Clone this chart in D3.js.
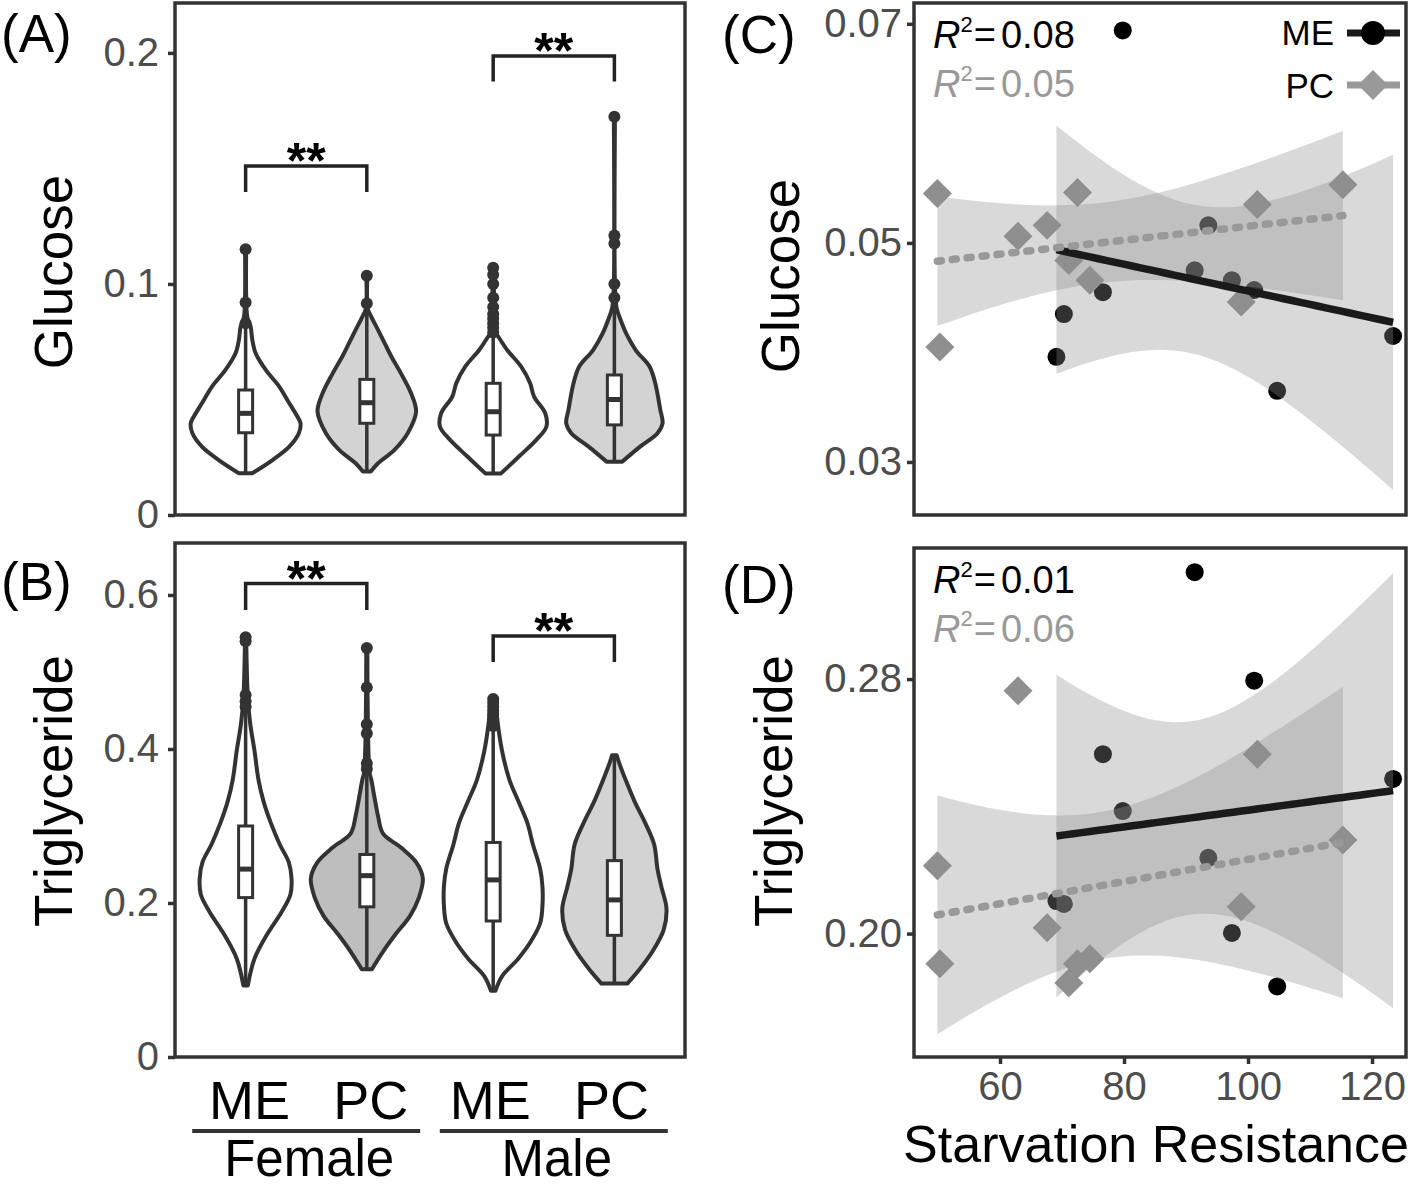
<!DOCTYPE html>
<html>
<head>
<meta charset="utf-8">
<script src="https://cdn.jsdelivr.net/npm/d3@7"></script>
<style>
body { margin:0; background:#fff; }
text { font-family: "Liberation Sans", Arial, Helvetica, sans-serif; }
</style>
</head>
<body>
<div id="chart"></div>
<script>
// ---- data ----
const sexes = ["Female", "Male"];
const pops = ["ME", "PC"];
// order of violins: ME-Female, PC-Female, ME-Male, PC-Male

// violin outlines: [value, relative density]
const gluViolinMEF = [[0.0181,0.12],[0.0238,0.48],[0.0296,0.78],[0.0354,0.95],[0.0397,0.98],[0.044,0.89],[0.0484,0.78],[0.0556,0.6],[0.0628,0.36],[0.07,0.18],[0.0758,0.12],[0.0815,0.09],[0.0858,0.03],[0.095,0.01],[0.115,0.01]];
const gluViolinPCF = [[0.0188,0.07],[0.0224,0.2],[0.0281,0.49],[0.0354,0.73],[0.0447,0.88],[0.0527,0.79],[0.0613,0.61],[0.0685,0.44],[0.0743,0.32],[0.0801,0.2],[0.0858,0.08],[0.089,0.02],[0.1035,0.01]];
const gluViolinMEM = [[0.018,0.14],[0.0253,0.46],[0.0325,0.77],[0.0382,0.95],[0.044,0.93],[0.0512,0.73],[0.057,0.66],[0.0642,0.5],[0.0714,0.25],[0.0772,0.09],[0.0786,0.05],[0.09,0.02],[0.107,0.01]];
const gluViolinPCM = [[0.0231,0.14],[0.0296,0.46],[0.0354,0.77],[0.0397,0.86],[0.0455,0.82],[0.057,0.73],[0.0642,0.63],[0.0714,0.38],[0.0786,0.21],[0.0858,0.09],[0.0895,0.04],[0.1,0.01],[0.1724,0.01]];

const triViolinMEF = [[0.093,0.04],[0.128,0.16],[0.16,0.39],[0.188,0.64],[0.211,0.8],[0.232,0.82],[0.253,0.77],[0.276,0.61],[0.304,0.45],[0.332,0.32],[0.36,0.23],[0.397,0.16],[0.434,0.08],[0.466,0.04],[0.545,0.01]];
const triViolinPCF = [[0.114,0.09],[0.137,0.29],[0.16,0.52],[0.183,0.77],[0.207,0.93],[0.232,1.0],[0.253,0.88],[0.272,0.61],[0.29,0.29],[0.313,0.2],[0.336,0.14],[0.36,0.08],[0.369,0.05],[0.531,0.01]];
const triViolinMEM = [[0.086,0.04],[0.105,0.16],[0.128,0.45],[0.151,0.68],[0.174,0.84],[0.197,0.88],[0.221,0.88],[0.244,0.84],[0.276,0.71],[0.304,0.61],[0.332,0.45],[0.36,0.29],[0.397,0.16],[0.434,0.08],[0.464,0.04]];
const triViolinPCM = [[0.0953,0.23],[0.114,0.45],[0.137,0.68],[0.165,0.88],[0.193,0.93],[0.221,0.84],[0.244,0.77],[0.276,0.71],[0.304,0.55],[0.332,0.36],[0.36,0.2],[0.383,0.08],[0.392,0.04]];

// boxes: [q1, median, q3]
const gluBoxes = [[0.0356,0.044,0.0541],[0.0397,0.0486,0.0587],[0.0346,0.0447,0.057],[0.039,0.050,0.0606]];
const triBoxes = [[0.207,0.244,0.300],[0.195,0.2355,0.263],[0.1766,0.230,0.2786],[0.158,0.204,0.255]];

const gluOutliers = [[0.115,0.092,0.083],[0.1035,0.0915],[0.107,0.104,0.1,0.094,0.09,0.087,0.085,0.083,0.081,0.079],[0.1724,0.121,0.1175,0.1,0.094]];
const triOutliers = [[0.545,0.54,0.47,0.462,0.455],[0.531,0.48,0.432,0.42,0.381,0.374],[0.465,0.46,0.455,0.45,0.445,0.44,0.435,0.43],[]];

// significance brackets: [sex, top, stem end]
const gluSig = [["Female",0.1511,0.1398],["Male",0.1987,0.1876]];
const triSig = [["Female",0.6148,0.5805],["Male",0.5468,0.513]];

// scatter (C, D)
const starveME = [69.1,70.3,76.6,79.8,91.4,93.6,97.4,101.0,104.7,123.4];
const glucoseME = [0.0396,0.0435,0.0455,0.0694,0.0475,0.0516,0.0466,0.0457,0.0365,0.0415];
const trigME = [0.2102,0.2093,0.2564,0.2385,0.3136,0.2238,0.2002,0.2795,0.1834,0.2486];
const starvePC = [49.9,50.3,62.9,67.6,71.1,72.5,74.5,98.9,101.5,115.3];
const glucosePC = [0.0545,0.0405,0.0506,0.0516,0.0484,0.0546,0.0466,0.0446,0.0535,0.0553];
const trigPC = [0.2213,0.1905,0.2763,0.2018,0.1845,0.1905,0.1921,0.2084,0.2564,0.2294];
const gluR2 = ["0.08","0.05"];
const trigR2 = ["0.01","0.06"];

// ---- drawing ----
const W = 1418, H = 1189;
const dark = "#333333";
const svg = d3.select("#chart").append("svg")
  .attr("width", W).attr("height", H)
  .style("background", "#fff");

const xSex = d3.scalePoint().domain(sexes).range([175, 685]).padding(0.53);
const xPop = d3.scalePoint().domain(pops).range([-60.6, 60.6]);
const wScale = d3.scaleLinear().domain([0, 1]).range([0, 56]);
const groupX = i => xSex(sexes[Math.floor(i / 2)]) + xPop(pops[i % 2]);

function styleAxis(ax, size) {
  ax.select(".domain").remove();
  ax.selectAll(".tick line").attr("stroke", dark).attr("stroke-width", 3.5);
  ax.selectAll(".tick text").attr("fill", "#4d4d4d").style("font-size", size + "px")
    .style("font-family", '"Liberation Sans", Arial, sans-serif');
}

function violinPanel(top, bottom, y, violins, boxes, outliers, fills, sig, ticks, fmt) {
  const g = svg.append("g");
  violins.forEach((prof, i) => {
    const cx = groupX(i);
    const area = d3.area().curve(d3.curveCatmullRom)
      .y(d => y(d[0]))
      .x0(d => cx - wScale(d[1]))
      .x1(d => cx + wScale(d[1]));
    g.append("path").attr("d", area(prof))
      .attr("fill", fills[i]).attr("stroke", dark).attr("stroke-width", 4)
      .attr("stroke-linejoin", "round");
    g.append("line")
      .attr("x1", cx).attr("x2", cx)
      .attr("y1", y(prof[0][0])).attr("y2", y(prof[prof.length - 1][0]))
      .attr("stroke", dark).attr("stroke-width", 3.5);
    const b = boxes[i];
    g.append("rect").attr("x", cx - 7).attr("width", 14)
      .attr("y", y(b[2])).attr("height", y(b[0]) - y(b[2]))
      .attr("fill", "#fff").attr("stroke", dark).attr("stroke-width", 3);
    g.append("line").attr("x1", cx - 7).attr("x2", cx + 7)
      .attr("y1", y(b[1])).attr("y2", y(b[1]))
      .attr("stroke", dark).attr("stroke-width", 5);
    g.selectAll(null).data(outliers[i]).enter().append("circle")
      .attr("cx", cx).attr("cy", d => y(d)).attr("r", 6).attr("fill", dark);
  });
  sig.forEach(s => {
    const x1 = xSex(s[0]) + xPop("ME"), x2 = xSex(s[0]) + xPop("PC");
    g.append("path")
      .attr("d", `M${x1},${y(s[2])}V${y(s[1])}H${x2}V${y(s[2])}`)
      .attr("fill", "none").attr("stroke", "#222").attr("stroke-width", 3.5);
    g.append("text").attr("x", (x1 + x2) / 2).attr("y", y(s[1]) + 12)
      .attr("text-anchor", "middle").style("font-size", "50px").style("font-weight", "bold")
      .text("**");
  });
  g.append("rect").attr("x", 175).attr("y", top).attr("width", 510).attr("height", bottom - top)
    .attr("fill", "none").attr("stroke", dark).attr("stroke-width", 3.5);
  const ax = svg.append("g").attr("transform", "translate(175,0)")
    .call(d3.axisLeft(y).tickValues(ticks).tickSize(7).tickPadding(9).tickFormat(fmt));
  styleAxis(ax, 40);
}

// Panel A
const yGlu = d3.scaleLinear().domain([0, 0.2216]).range([515, 3]);
violinPanel(3, 515, yGlu, [gluViolinMEF, gluViolinPCF, gluViolinMEM, gluViolinPCM],
  gluBoxes, gluOutliers, ["#ffffff", "#d3d3d3", "#ffffff", "#d3d3d3"], gluSig,
  [0, 0.1, 0.2], d => d === 0 ? "0" : d3.format(".1f")(d));

// Panel B
const yTri = d3.scaleLinear().domain([0, 0.6675]).range([1057, 543]);
violinPanel(543, 1057, yTri, [triViolinMEF, triViolinPCF, triViolinMEM, triViolinPCM],
  triBoxes, triOutliers, ["#ffffff", "#bebebe", "#ffffff", "#d3d3d3"], triSig,
  [0, 0.2, 0.4, 0.6], d => d === 0 ? "0" : d3.format(".1f")(d));

// category labels under A/B
const catG = svg.append("g");
[0, 1, 2, 3].forEach(i => {
  catG.append("text").attr("x", groupX(i) + (i < 2 ? 4 : -3)).attr("y", 1119)
    .attr("text-anchor", "middle").style("font-size", "54px").text(pops[i % 2]);
});
sexes.forEach(s => {
  const cx = xSex(s);
  catG.append("line").attr("x1", cx - 114).attr("x2", cx + 114)
    .attr("y1", 1131).attr("y2", 1131).attr("stroke", dark).attr("stroke-width", 4);
  catG.append("text").attr("x", cx + 3).attr("y", 1176)
    .attr("text-anchor", "middle").style("font-size", "51px").text(s);
});

// ---- scatter panels ----
const xSR = d3.scaleLinear().domain([46.13, 125.48]).range([914, 1406]);

function linFit(xs, ys) {
  const n = xs.length, mx = d3.mean(xs), my = d3.mean(ys);
  let sxx = 0, sxy = 0;
  xs.forEach((x, i) => { sxx += (x - mx) ** 2; sxy += (x - mx) * (ys[i] - my); });
  const b = sxy / sxx, a = my - b * mx;
  let sse = 0;
  xs.forEach((x, i) => { sse += (ys[i] - a - b * x) ** 2; });
  const s = Math.sqrt(sse / (n - 2));
  const t = 2.306; // t(0.975, df = 8)
  const lo = d3.min(xs), hi = d3.max(xs);
  const pts = d3.range(0, 41).map(k => {
    const x = lo + (hi - lo) * k / 40;
    const yh = a + b * x;
    const se = s * Math.sqrt(1 / n + (x - mx) ** 2 / sxx);
    return { x, yh, lo: yh - t * se, hi: yh + t * se };
  });
  return pts;
}

const diamond = d3.symbol().type(d3.symbolSquare).size(420);

function scatterPanel(top, bottom, y, meY, pcY, r2, ticks, fmt, clipId) {
  const g = svg.append("g");
  svg.append("clipPath").attr("id", clipId).append("rect")
    .attr("x", 914).attr("y", top).attr("width", 492).attr("height", bottom - top);
  const pg = g.append("g").attr("clip-path", `url(#${clipId})`);

  pg.selectAll(null).data(starveME).enter().append("circle")
    .attr("cx", d => xSR(d)).attr("cy", (d, i) => y(meY[i])).attr("r", 9).attr("fill", "#000");
  pg.selectAll(null).data(starvePC).enter().append("path")
    .attr("d", diamond)
    .attr("transform", (d, i) => `translate(${xSR(d)},${y(pcY[i])}) rotate(45)`)
    .attr("fill", "#8f8f8f");

  const fitME = linFit(starveME, meY), fitPC = linFit(starvePC, pcY);
  const band = d3.area().x(d => xSR(d.x)).y0(d => y(d.lo)).y1(d => y(d.hi));
  [fitME, fitPC].forEach(f => {
    pg.append("path").attr("d", band(f)).attr("fill", "#8f8f8f").attr("fill-opacity", 0.34);
  });
  const line = d3.line().x(d => xSR(d.x)).y(d => y(d.yh));
  pg.append("path").attr("d", line(fitME)).attr("fill", "none")
    .attr("stroke", "#1a1a1a").attr("stroke-width", 7.5);
  pg.append("path").attr("d", line(fitPC)).attr("fill", "none")
    .attr("stroke", "#999").attr("stroke-width", 7.5)
    .attr("stroke-dasharray", "4,11").attr("stroke-linecap", "round");

  g.append("rect").attr("x", 914).attr("y", top).attr("width", 492).attr("height", bottom - top)
    .attr("fill", "none").attr("stroke", dark).attr("stroke-width", 3.5);

  const ax = svg.append("g").attr("transform", "translate(914,0)")
    .call(d3.axisLeft(y).tickValues(ticks).tickSize(7).tickPadding(5).tickFormat(fmt));
  styleAxis(ax, 40);

  // R^2 labels
  [[r2[0], "#000", 0], [r2[1], "#999", 1]].forEach(([v, col, k]) => {
    const t = g.append("text").attr("x", 933).attr("y", top + 45 + k * 49)
      .attr("fill", col).style("font-size", "38px");
    t.append("tspan").text("R").style("font-style", "italic");
    t.append("tspan").text("2").attr("dy", -16).style("font-size", "22px");
    t.append("tspan").text("=").attr("dy", 16).attr("dx", 1);
    t.append("tspan").text(v).attr("dx", 5);
  });
}

const yGluC = d3.scaleLinear().domain([0.02516, 0.0719]).range([515, 3]);
scatterPanel(3, 515, yGluC, glucoseME, glucosePC, gluR2, [0.03, 0.05, 0.07], d3.format(".2f"), "clipC");

const yTriD = d3.scaleLinear().domain([0.1612, 0.3212]).range([1057, 548]);
scatterPanel(548, 1057, yTriD, trigME, trigPC, trigR2, [0.20, 0.28], d3.format(".2f"), "clipD");

const xAx = svg.append("g").attr("transform", "translate(0,1057)")
  .call(d3.axisBottom(xSR).tickValues([60, 80, 100, 120]).tickSize(7).tickPadding(8));
styleAxis(xAx, 40);

// legend (panel C)
const leg = svg.append("g");
leg.append("text").attr("x", 1334).attr("y", 45).attr("text-anchor", "end")
  .style("font-size", "35px").text("ME");
leg.append("line").attr("x1", 1347).attr("x2", 1400).attr("y1", 33).attr("y2", 33)
  .attr("stroke", "#1a1a1a").attr("stroke-width", 7);
leg.append("circle").attr("cx", 1373).attr("cy", 33).attr("r", 12).attr("fill", "#000");
leg.append("text").attr("x", 1334).attr("y", 98).attr("text-anchor", "end")
  .style("font-size", "35px").text("PC");
leg.append("line").attr("x1", 1347).attr("x2", 1400).attr("y1", 85).attr("y2", 85)
  .attr("stroke", "#999").attr("stroke-width", 7);
leg.append("path").attr("d", d3.symbol().type(d3.symbolSquare).size(450))
  .attr("transform", "translate(1373,85) rotate(45)").attr("fill", "#999");

// axis titles
const titles = [["Glucose", 72, 272], ["Triglyceride", 72, 791], ["Glucose", 799, 276], ["Triglyceride", 792, 791]];
titles.forEach(([t, x, y]) => {
  svg.append("text").attr("transform", `translate(${x},${y}) rotate(-90)`)
    .attr("text-anchor", "middle").style("font-size", "53px").text(t);
});
svg.append("text").attr("x", 1156).attr("y", 1162).attr("text-anchor", "middle")
  .style("font-size", "52px").text("Starvation Resistance");

// panel letters
[["(A)", 1, 52], ["(B)", 1, 600], ["(C)", 722, 53], ["(D)", 722, 603]].forEach(([t, x, y]) => {
  svg.append("text").attr("x", x).attr("y", y).style("font-size", "53px").text(t);
});
</script>
</body>
</html>
